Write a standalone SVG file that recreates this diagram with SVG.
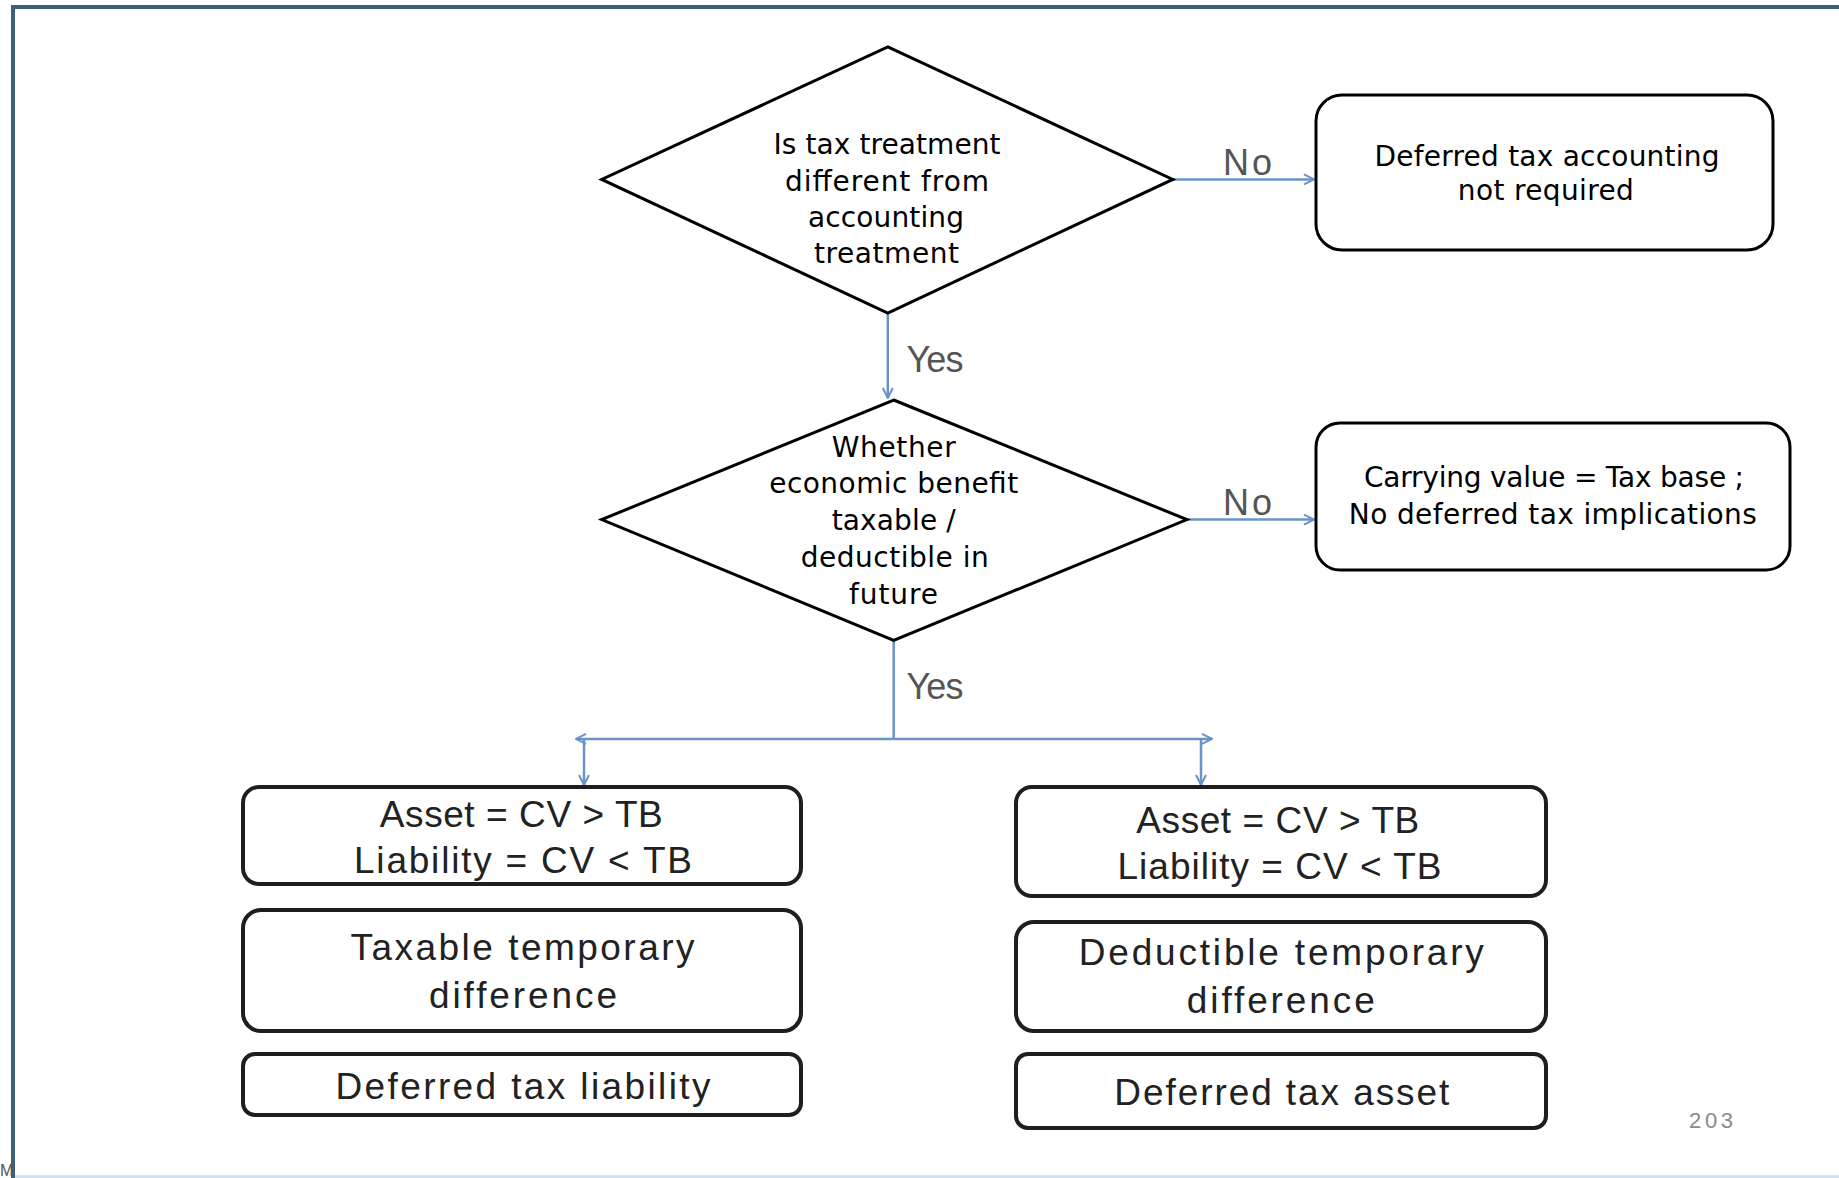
<svg xmlns="http://www.w3.org/2000/svg" width="1839" height="1178" viewBox="0 0 1839 1178">
<style>
.shape{fill:#fff;stroke:#000;stroke-width:3}
.lbox{fill:#fff;stroke:#1e1e1e;stroke-width:4}
.t{font-family:"DejaVu Sans",sans-serif;font-size:28px;fill:#000;text-anchor:middle}
.lt{font-family:"Liberation Sans",Arial,sans-serif;font-size:37px;fill:#222;text-anchor:middle}
.lab{font-family:"Liberation Sans",Arial,sans-serif;font-size:36px;fill:#555;text-anchor:middle}
.conn{fill:none;stroke:#6a93c7;stroke-width:2.5}
</style>
<defs>
<marker id="arr" viewBox="0 0 12 12" refX="11" refY="6" markerWidth="12" markerHeight="12" markerUnits="userSpaceOnUse" orient="auto">
<path d="M1,1 L11,6 L1,11" fill="none" stroke="#6a93c7" stroke-width="2"/>
</marker>
</defs>
<rect width="1839" height="1178" fill="#fff"/>
<g id="frame">
<rect x="11" y="5" width="1828" height="4" fill="#3d6078"/>
<rect x="11" y="5" width="4" height="1173" fill="#3d6078"/>
<rect x="15" y="1175" width="1824" height="3" fill="#cfe3f3"/>
<text x="0" y="1176" font-family="Liberation Sans,Arial,sans-serif" font-size="16" fill="#555">M</text>
<text x="1711" y="1128" font-family="Liberation Sans,Arial,sans-serif" font-size="22" fill="#8a8a8a" text-anchor="middle" textLength="44">203</text>
</g>
<g id="connectors">
<line class="conn" x1="1173" y1="179.4" x2="1314" y2="179.4" marker-end="url(#arr)"/>
<line class="conn" x1="887.8" y1="313" x2="887.8" y2="398" marker-end="url(#arr)"/>
<line class="conn" x1="1187" y1="519.6" x2="1314" y2="519.6" marker-end="url(#arr)"/>
<line class="conn" x1="893.7" y1="640.4" x2="893.7" y2="738.9"/>
<line class="conn" x1="893.7" y1="738.9" x2="576" y2="738.9" marker-end="url(#arr)"/>
<line class="conn" x1="893.7" y1="738.9" x2="1212" y2="738.9" marker-end="url(#arr)"/>
<line class="conn" x1="584" y1="738.9" x2="584" y2="785" marker-end="url(#arr)"/>
<line class="conn" x1="1201" y1="738.9" x2="1201" y2="785" marker-end="url(#arr)"/>
<text class="lab" x="1247.5" y="175" textLength="49">No</text>
<text class="lab" x="1247.5" y="515" textLength="49">No</text>
<text class="lab" x="935" y="372" textLength="57">Yes</text>
<text class="lab" x="935" y="699" textLength="57">Yes</text>
</g>
<g id="decision1">
<polygon class="shape" points="887.8,46.9 1172.8,179.4 887.8,313 601.7,179.4"/>
<text class="t" x="887" y="154" textLength="227">Is tax treatment</text>
<text class="t" x="887" y="191" textLength="204">different from</text>
<text class="t" x="886" y="227" textLength="156">accounting</text>
<text class="t" x="886.5" y="263" textLength="145">treatment</text>
</g>
<g id="noDeferred">
<rect class="shape" x="1316" y="95" width="457" height="155" rx="26"/>
<text class="t" x="1547" y="166" textLength="345">Deferred tax accounting</text>
<text class="t" x="1545.8" y="200" textLength="176">not required</text>
</g>
<g id="decision2">
<polygon class="shape" points="893.7,400 1186.9,519.6 893.7,640.4 601.7,519.6"/>
<text class="t" x="893.7" y="457" textLength="124">Whether</text>
<text class="t" x="893.7" y="493" textLength="249">economic benefit</text>
<text class="t" x="893.7" y="530" textLength="124">taxable /</text>
<text class="t" x="894.8" y="567" textLength="188">deductible in</text>
<text class="t" x="893.5" y="604" textLength="89">future</text>
</g>
<g id="noImplications">
<rect class="shape" x="1316" y="423" width="474" height="147" rx="24"/>
<text class="t" x="1554" y="487" textLength="380">Carrying value = Tax base ;</text>
<text class="t" x="1552.8" y="524" textLength="408">No deferred  tax implications</text>
</g>
<g id="leftCondition">
<rect class="lbox" x="243" y="787" width="558" height="97" rx="16"/>
<text class="lt" x="521.3" y="827" textLength="283">Asset = CV &gt; TB</text>
<text class="lt" x="523" y="873" textLength="338">Liability =  CV &lt; TB</text>
</g>
<g id="taxableDifference">
<rect class="lbox" x="243" y="910" width="558" height="121" rx="18"/>
<text class="lt" x="522.5" y="960" textLength="344">Taxable temporary</text>
<text class="lt" x="523" y="1008" textLength="188">difference</text>
</g>
<g id="deferredTaxLiability">
<rect class="lbox" x="243" y="1054" width="558" height="61" rx="12"/>
<text class="lt" x="523" y="1099" textLength="375">Deferred tax liability</text>
</g>
<g id="rightCondition">
<rect class="lbox" x="1016" y="787" width="530" height="109" rx="16"/>
<text class="lt" x="1277.8" y="833" textLength="283">Asset = CV &gt; TB</text>
<text class="lt" x="1279.5" y="879" textLength="324">Liability = CV  &lt; TB</text>
</g>
<g id="deductibleDifference">
<rect class="lbox" x="1016" y="922" width="530" height="109" rx="18"/>
<text class="lt" x="1281.3" y="965" textLength="405">Deductible temporary</text>
<text class="lt" x="1280.8" y="1013" textLength="188">difference</text>
</g>
<g id="deferredTaxAsset">
<rect class="lbox" x="1016" y="1054" width="530" height="74" rx="12"/>
<text class="lt" x="1281.8" y="1105" textLength="335">Deferred tax asset</text>
</g>
</svg>
